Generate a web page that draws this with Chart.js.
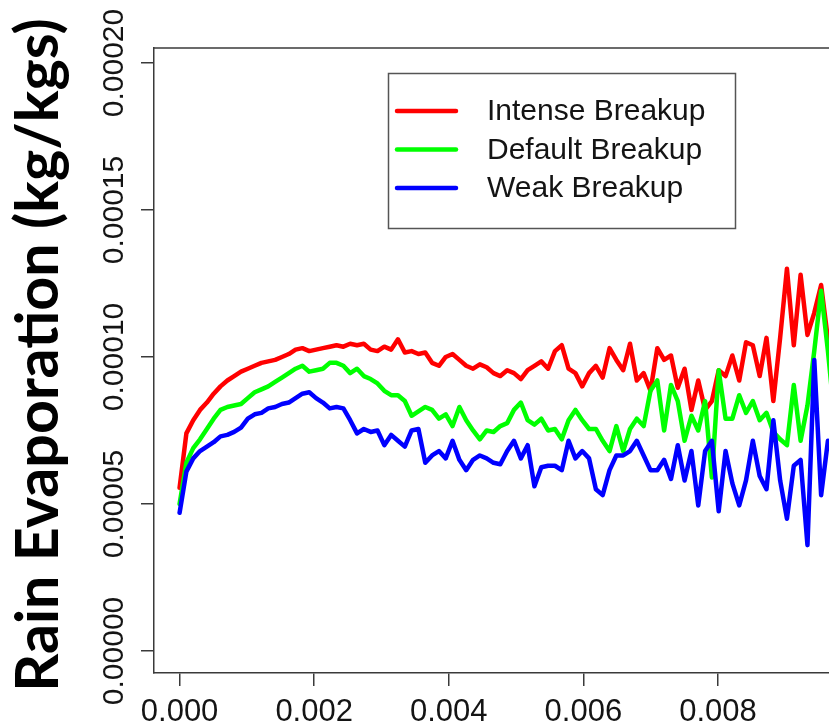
<!DOCTYPE html>
<html>
<head>
<meta charset="utf-8">
<script src="https://cdn.jsdelivr.net/npm/chart.js@4.4.1/dist/chart.umd.min.js"></script>
<style>
  html, body { margin: 0; padding: 0; background: #fff; }
</style>
</head>
<body>
<canvas id="chart" width="829" height="725"></canvas>
<script>
// x positions of the samples
const xVals = [0, 0.000101, 0.000203, 0.000304, 0.000406, 0.000507, 0.000608, 0.000710, 0.000811, 0.000913,
  0.001014, 0.001116, 0.001217, 0.001318, 0.001420, 0.001521, 0.001623, 0.001724, 0.001825, 0.001927,
  0.002028, 0.002130, 0.002231, 0.002332, 0.002434, 0.002535, 0.002637, 0.002738, 0.002839, 0.002941,
  0.003042, 0.003144, 0.003245, 0.003347, 0.003448, 0.003549, 0.003651, 0.003752, 0.003854, 0.003955,
  0.004056, 0.004158, 0.004259, 0.004361, 0.004462, 0.004563, 0.004665, 0.004766, 0.004868, 0.004969,
  0.005071, 0.005172, 0.005273, 0.005375, 0.005476, 0.005578, 0.005679, 0.005780, 0.005882, 0.005983,
  0.006085, 0.006186, 0.006287, 0.006389, 0.006490, 0.006592, 0.006693, 0.006794, 0.006896, 0.006997,
  0.007099, 0.007200, 0.007302, 0.007403, 0.007504, 0.007606, 0.007707, 0.007809, 0.007910, 0.008011,
  0.008113, 0.008214, 0.008316, 0.008417, 0.008518, 0.008620, 0.008721, 0.008823, 0.008924, 0.009025,
  0.009127, 0.009228, 0.009330, 0.009431, 0.009533, 0.009634, 0.009735];

// rain evaporation, in units of 1e-5 kg/kgs
const intense = [5.55, 7.4, 7.85, 8.2, 8.45, 8.75, 9.0, 9.2, 9.35, 9.5,
  9.6, 9.7, 9.8, 9.85, 9.9, 10.0, 10.1, 10.25, 10.3, 10.2,
  10.25, 10.3, 10.35, 10.4, 10.35, 10.45, 10.4, 10.45, 10.25, 10.2,
  10.35, 10.25, 10.6, 10.15, 10.2, 10.1, 10.15, 9.8, 9.7, 10.0,
  10.1, 9.9, 9.7, 9.6, 9.75, 9.65, 9.45, 9.35, 9.55, 9.45,
  9.25, 9.55, 9.7, 9.85, 9.6, 10.2, 10.4, 9.6, 9.45, 9.0,
  9.45, 9.7, 9.3, 10.3, 9.9, 9.55, 10.45, 9.2, 9.45, 8.85,
  10.3, 9.9, 10.05, 8.95, 9.6, 8.2, 9.2, 8.2, 8.5, 9.55,
  9.35, 10.05, 9.2, 10.5, 10.4, 9.35, 10.65, 8.5, 10.65, 13.0,
  10.4, 12.8, 10.75, 11.5, 12.45, 10.6, 11.1];
const dflt = [5.0, 6.4, 6.9, 7.2, 7.55, 7.9, 8.2, 8.3, 8.35, 8.4,
  8.6, 8.8, 8.9, 9.0, 9.15, 9.3, 9.45, 9.6, 9.7, 9.5,
  9.55, 9.6, 9.8, 9.8, 9.7, 9.45, 9.6, 9.35, 9.25, 9.1,
  8.85, 8.7, 8.7, 8.5, 8.0, 8.15, 8.3, 8.2, 7.9, 8.05,
  7.65, 8.3, 7.85, 7.5, 7.2, 7.5, 7.45, 7.65, 7.75, 8.2,
  8.45, 7.85, 7.7, 7.9, 7.5, 7.55, 7.2, 7.85, 8.2, 7.85,
  7.55, 7.55, 7.15, 6.8, 7.65, 6.8, 7.55, 7.9, 7.65, 8.85,
  9.2, 7.5, 9.05, 8.5, 7.15, 8.0, 7.5, 8.5, 5.9, 9.55,
  7.9, 7.9, 8.7, 8.1, 8.5, 7.85, 8.1, 7.45, 7.2, 7.0,
  9.05, 7.15, 8.35, 10.2, 12.25, 10.2, 7.85];
const weak = [4.7, 6.1, 6.55, 6.8, 6.95, 7.1, 7.3, 7.35, 7.45, 7.6,
  7.9, 8.05, 8.1, 8.25, 8.3, 8.4, 8.45, 8.6, 8.75, 8.8,
  8.6, 8.45, 8.25, 8.3, 8.25, 7.85, 7.4, 7.55, 7.45, 7.5,
  7.0, 7.35, 7.15, 6.95, 7.5, 7.55, 6.4, 6.65, 6.8, 6.55,
  7.15, 6.5, 6.15, 6.5, 6.65, 6.55, 6.4, 6.35, 6.8, 7.15,
  6.55, 7.0, 5.6, 6.25, 6.3, 6.3, 6.15, 7.15, 6.55, 6.8,
  6.55, 5.5, 5.3, 6.15, 6.65, 6.65, 6.8, 7.15, 6.65, 6.15,
  6.15, 6.5, 5.85, 7.0, 5.8, 6.8, 4.95, 6.8, 7.15, 4.75,
  6.8, 5.7, 4.95, 5.8, 7.15, 5.95, 5.5, 7.85, 5.8, 4.5,
  6.3, 6.5, 3.6, 9.9, 5.3, 7.15, 6.8];

const seriesNames = ["Intense Breakup", "Default Breakup", "Weak Breakup"];
const seriesColors = ["#ff0000", "#00ff00", "#0000ff"];
const xTicks = [0, 0.002, 0.004, 0.006, 0.008];
const yTicks = [0, 0.00005, 0.0001, 0.00015, 0.0002];
const yTitle = "Rain Evaporation (kg/kgs)";

const AXIS = "#3a3a3a";
const INK = "#141414";
const FONT = "'Liberation Sans', Arial, sans-serif";

let toPoints = (vals) => xVals.map((x, i) => ({ x: x, y: vals[i] * 1e-5 }));

// rotated tick labels, axis title, top edge of the box and the legend
const decorations = {
    id: "decorations",
    afterDraw(chart) {
        const { ctx, chartArea: a, scales: { y } } = chart;
        ctx.save();

        ctx.strokeStyle = AXIS;
        ctx.lineWidth = 1.5;
        ctx.beginPath();
        ctx.moveTo(a.left, a.top);
        ctx.lineTo(a.right, a.top);
        ctx.stroke();

        ctx.fillStyle = INK;
        ctx.font = `30px ${FONT}`;
        ctx.textAlign = "center";
        ctx.textBaseline = "alphabetic";
        for (let t of yTicks) {
            ctx.save();
            ctx.translate(123, y.getPixelForValue(t));
            ctx.rotate(-Math.PI / 2);
            ctx.fillText(t.toFixed(5), 0, 0);
            ctx.restore();
        }

        // title, sized to span the same height as the original
        ctx.fillStyle = "#000";
        ctx.font = `bold 55px Lato, ${FONT}`;
        let size = 55 * 674 / ctx.measureText(yTitle).width;
        ctx.font = `bold ${size.toFixed(1)}px Lato, ${FONT}`;
        ctx.save();
        ctx.translate(58, 355);
        ctx.rotate(-Math.PI / 2);
        ctx.fillText(yTitle, 0, 0);
        ctx.restore();

        // legend box
        ctx.fillStyle = "#fff";
        ctx.fillRect(388.5, 73.5, 347, 155);
        ctx.strokeStyle = "#555";
        ctx.lineWidth = 1.5;
        ctx.strokeRect(388.5, 73.5, 347, 155);
        ctx.font = `30px ${FONT}`;
        ctx.textAlign = "left";
        ctx.textBaseline = "middle";
        chart.data.datasets.forEach((ds, i) => {
            let rowY = 111 + i * 38.5;
            ctx.strokeStyle = ds.borderColor;
            ctx.lineWidth = 4.5;
            ctx.lineCap = "round";
            ctx.beginPath();
            ctx.moveTo(397, rowY);
            ctx.lineTo(456, rowY);
            ctx.stroke();
            ctx.fillStyle = INK;
            ctx.fillText(ds.label, 487, rowY + 1);
        });

        ctx.restore();
    }
};

new Chart(document.getElementById("chart"), {
    type: "line",
    data: {
        datasets: [
            { label: seriesNames[0], data: toPoints(intense), borderColor: seriesColors[0], order: 3 },
            { label: seriesNames[1], data: toPoints(dflt), borderColor: seriesColors[1], order: 2 },
            { label: seriesNames[2], data: toPoints(weak), borderColor: seriesColors[2], order: 1 }
        ]
    },
    options: {
        responsive: false,
        animation: false,
        devicePixelRatio: 1,
        layout: { padding: { top: 48, right: 0, left: 0, bottom: 0 } },
        elements: {
            line: { borderWidth: 4.5, tension: 0, fill: false, borderJoinStyle: "round", borderCapStyle: "round" },
            point: { radius: 0, hoverRadius: 0 }
        },
        plugins: { legend: { display: false }, tooltip: { enabled: false } },
        scales: {
            x: {
                type: "linear",
                min: -0.00038,
                max: 0.00965,
                afterBuildTicks: (s) => { s.ticks = xTicks.map(v => ({ value: v })); },
                afterFit: (s) => { s.height = 52; },
                grid: { display: true, drawOnChartArea: false, drawTicks: true, tickLength: 13, color: AXIS, lineWidth: 1.5 },
                border: { display: true, color: AXIS, width: 1.5 },
                ticks: {
                    color: INK,
                    font: { size: 31, family: FONT },
                    padding: 8,
                    maxRotation: 0,
                    autoSkip: false,
                    callback: (v) => v.toFixed(3)
                }
            },
            y: {
                type: "linear",
                min: -0.0000075,
                max: 0.0002051,
                afterBuildTicks: (s) => { s.ticks = yTicks.map(v => ({ value: v })); },
                afterFit: (s) => { s.width = 154; },
                grid: { display: true, drawOnChartArea: false, drawTicks: true, tickLength: 13, color: AXIS, lineWidth: 1.5 },
                border: { display: true, color: AXIS, width: 1.5 },
                ticks: { display: false }
            }
        }
    },
    plugins: [decorations]
});
</script>
</body>
</html>
